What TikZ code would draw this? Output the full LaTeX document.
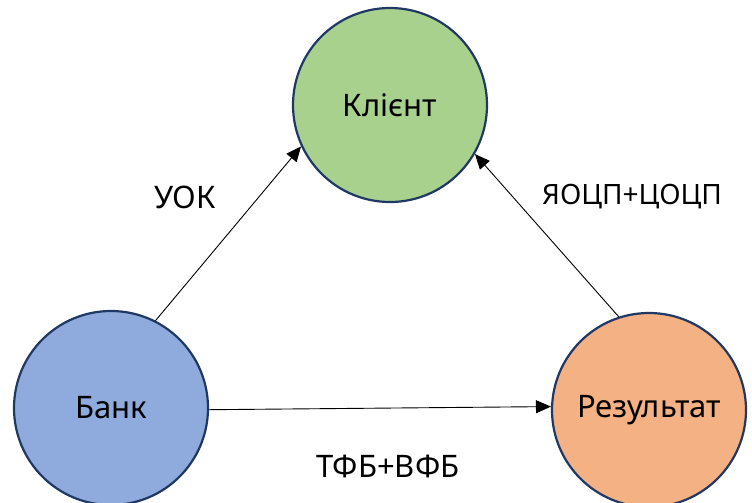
\documentclass[tikz,border=0pt]{standalone}
\usepackage{fontspec}
\setmainfont{Noto Sans}
\usetikzlibrary{arrows.meta}
\definecolor{rim}{HTML}{1F3864}
\definecolor{greenfill}{HTML}{A9D18E}
\definecolor{bluefill}{HTML}{8FAADC}
\definecolor{orangefill}{HTML}{F4B183}
\tikzset{
  party/.style={circle, draw=rim, line width=2.2pt, minimum size=194pt, inner sep=0pt,
    font=\fontsize{31}{38}\selectfont},
  flow/.style={line width=0.9pt, -{Triangle[length=15pt,width=13pt]}},
  tag/.style={font=\fontsize{31}{38}\selectfont, inner sep=0pt}
}
\begin{document}
\begin{tikzpicture}[x=1pt,y=-1pt]
  \useasboundingbox (0,0) rectangle (752,503);
  \node[party, fill=greenfill]  (client) at (390,105) {Клієнт};
  \node[party, fill=bluefill]   (bank)   at (111,408) {Банк};
  \node[party, fill=orangefill] (result) at (649,410) {Результат};

  \draw[flow] (bank.63) -- (client.205);
  \draw[flow] (result.108) -- (client.330);
  \draw[flow] (bank.-1) -- (result.178);

  \node[tag] (uok)  at (185,197) {УОК};
  \node[tag, font=\fontsize{28}{34}\selectfont] (yots) at (632,197) {ЯОЦП+ЦОЦП};
  \node[tag] (tfb)  at (388,466) {ТФБ+ВФБ};
\end{tikzpicture}
\end{document}
